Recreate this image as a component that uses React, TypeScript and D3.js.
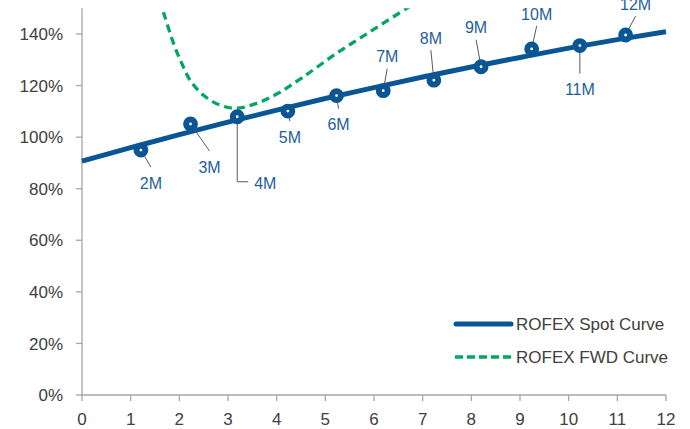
import React from "react";
import * as d3 from "d3";

// Spot contract observations: tenor position on the axis and level (%)
const spotLabels = ["2M", "3M", "4M", "5M", "6M", "7M", "8M", "9M", "10M", "11M", "12M"];
const spotX = [1.21, 2.23, 3.19, 4.23, 5.23, 6.19, 7.23, 8.2, 9.24, 10.23, 11.17];
const spotY = [95.0, 105.1, 107.9, 110.1, 116.1, 118.0, 122.1, 127.3, 134.2, 135.5, 139.6];

// Fitted spot curve sampled at each axis unit
const curveX = [0, 1, 2, 3, 4, 5, 6, 7, 8, 9, 10, 11, 12];
const curveY = [90.7, 95.9, 101.0, 105.8, 110.5, 115.0, 119.2, 123.3, 127.2, 130.9, 134.5, 137.8, 140.9];

// Forward curve
const fwdX = [1.5, 1.67, 1.88, 2.05, 2.22, 2.49, 2.84, 3.18, 3.59, 4.03, 4.55, 5.23, 5.92, 6.67, 6.85];
const fwdY = [158, 148.6, 136.4, 128.6, 122.1, 116.3, 112.4, 111.2, 113.1, 117.0, 123.4, 132.5, 140.9, 149.9, 152];

const xTicks = [0, 1, 2, 3, 4, 5, 6, 7, 8, 9, 10, 11, 12];
const yTicks = [0, 20, 40, 60, 80, 100, 120, 140];

const seriesNames = ["ROFEX Spot Curve", "ROFEX FWD Curve"];

// Label offsets (dx, dy) from each marker
const labelOffsets: [number, number][] = [
  [10, 33], [19, 43], [28, 66], [2, 26], [2, 29], [4, -34], [-3, -42], [-5, -39], [5, -35], [0, 44], [10, -31],
];

const BLUE = "#0A5695";
const GREEN = "#00A85F";
const TEXT_BLUE = "#1F5E9C";
const AXIS = "#A6A6A6";
const TICK_TEXT = "#404040";
const LEADER = "#5a5a5a";
const FONT = "'Liberation Sans', Arial, sans-serif";

export default function App() {
  const W = 690, H = 429;
  const x = d3.scaleLinear().domain([0, 12]).range([82, 666]);
  const y = d3.scaleLinear().domain([0, 150]).range([395, 8.2]);

  const trendLine = d3
    .line<number>()
    .x((_, i) => x(curveX[i]))
    .y((d) => y(d))
    .curve(d3.curveMonotoneX)(curveY);

  const fwdLine = d3
    .line<number>()
    .x((_, i) => x(fwdX[i]))
    .y((d) => y(d))
    .curve(d3.curveCatmullRom.alpha(0.5))(fwdY);

  return (
    <svg width={W} height={H} style={{ position: "absolute", left: 0, top: 0, background: "#fff" }}>
      <defs>
        <clipPath id="plot">
          <rect x={82} y={y(150)} width={600} height={395 - y(150)} />
        </clipPath>
      </defs>

      {/* axes */}
      <line x1={82} x2={82} y1={y(150)} y2={395} stroke={AXIS} strokeWidth={1.3} />
      <line x1={82} x2={x(12)} y1={395} y2={395} stroke={AXIS} strokeWidth={1.3} />
      {yTicks.map((t) => (
        <g key={"y" + t}>
          <line x1={76} x2={82} y1={y(t)} y2={y(t)} stroke={AXIS} strokeWidth={1.3} />
          <text x={63} y={y(t)} dy="0.36em" textAnchor="end" fontSize={17} fontFamily={FONT} fill={TICK_TEXT}>
            {t}%
          </text>
        </g>
      ))}
      {xTicks.map((t) => (
        <g key={"x" + t}>
          <line x1={x(t)} x2={x(t)} y1={395} y2={401} stroke={AXIS} strokeWidth={1.3} />
          <text x={x(t)} y={418.5} dy="0.36em" textAnchor="middle" fontSize={17} fontFamily={FONT} fill={TICK_TEXT}>
            {t}
          </text>
        </g>
      ))}

      {/* forward curve */}
      <g clipPath="url(#plot)">
        <path d={fwdLine ?? ""} fill="none" stroke={GREEN} strokeWidth={3.3} strokeDasharray="8 5" />
      </g>

      {/* spot curve */}
      <path d={trendLine ?? ""} fill="none" stroke={BLUE} strokeWidth={5} />

      {/* leader lines */}
      {spotLabels.map((lab, i) => {
        const px = x(spotX[i]);
        const py = y(spotY[i]);
        const [dx, dy] = labelOffsets[i];
        if (lab === "4M") {
          const ey = py + 65;
          return (
            <polyline key={"l" + lab} points={`${px},${py} ${px},${ey} ${px + 11},${ey}`} fill="none" stroke={LEADER} strokeWidth={1} />
          );
        }
        const ty = dy > 0 ? py + dy - 16 : py + dy + 12;
        return <line key={"l" + lab} x1={px} y1={py} x2={px + dx} y2={ty} stroke={LEADER} strokeWidth={1} />;
      })}

      {/* markers */}
      {spotX.map((sx, i) => (
        <circle key={"m" + i} cx={x(sx)} cy={y(spotY[i])} r={4.4} fill="#fff" stroke={BLUE} strokeWidth={6} />
      ))}

      {/* data labels */}
      {spotLabels.map((lab, i) => {
        const [dx, dy] = labelOffsets[i];
        return (
          <text
            key={"t" + lab}
            x={x(spotX[i]) + dx}
            y={y(spotY[i]) + dy}
            dy="0.36em"
            textAnchor="middle"
            fontSize={16}
            fontFamily={FONT}
            fill={TEXT_BLUE}
          >
            {lab}
          </text>
        );
      })}

      {/* legend */}
      <line x1={456} x2={511} y1={324} y2={324} stroke={BLUE} strokeWidth={5} strokeLinecap="round" />
      <text x={516} y={324} dy="0.36em" fontSize={17} fontFamily={FONT} fill={TICK_TEXT}>
        {seriesNames[0]}
      </text>
      <line x1={455} x2={512} y1={357} y2={357} stroke={GREEN} strokeWidth={3.3} strokeDasharray="8 4" />
      <text x={516} y={357} dy="0.36em" fontSize={17} fontFamily={FONT} fill={TICK_TEXT}>
        {seriesNames[1]}
      </text>
    </svg>
  );
}
